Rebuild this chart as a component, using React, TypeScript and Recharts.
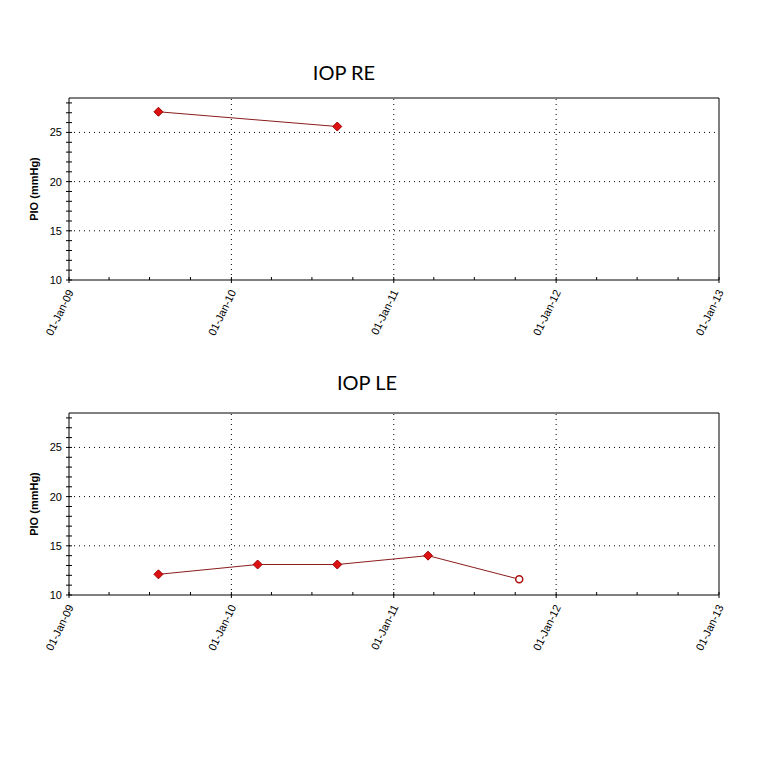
import React from 'react';
import { LineChart, Line, XAxis, YAxis, ReferenceLine, Label } from 'recharts';

// Readings (date, mmHg)
const reDates = ['2009-07-21', '2010-08-27'];
const reValues = [27.1, 25.6];

const leDates = ['2009-07-21', '2010-03-01', '2010-08-27', '2011-03-19', '2011-10-10'];
const leValues = [12.1, 13.1, 13.1, 14.0, 11.6];
const leOpen = [false, false, false, false, true];

const years = [2009, 2010, 2011, 2012, 2013];
const gridYears = [2010, 2011, 2012];
const yGrid = [15, 20, 25];
const yTicks = [10, 11, 12, 13, 14, 15, 16, 17, 18, 19, 20, 21, 22, 23, 24, 25, 26, 27, 28];
const yDomain: [number, number] = [10, 28.5];

const MONTHS = ['Jan', 'Feb', 'Mar', 'Apr', 'May', 'Jun', 'Jul', 'Aug', 'Sep', 'Oct', 'Nov', 'Dec'];

const toTs = (s: string) => Date.parse(s + 'T00:00:00Z');
const xDomain: [number, number] = [Date.UTC(2009, 0, 1), Date.UTC(2013, 0, 1)];
// quarter ticks between the year ticks
const quarterTicks: number[] = [];
years.forEach(y => {
  [0, 3, 6, 9].forEach(m => {
    const t = Date.UTC(y, m, 1);
    if (t <= xDomain[1]) quarterTicks.push(t);
  });
});

const reData = reDates.map((d, i) => ({ t: toTs(d), v: reValues[i], open: false }));
const leData = leDates.map((d, i) => ({ t: toTs(d), v: leValues[i], open: leOpen[i] }));

const fmtDate = (ts: number) => {
  const d = new Date(ts);
  const dd = String(d.getUTCDate()).padStart(2, '0');
  const yy = String(d.getUTCFullYear()).slice(2);
  return `${dd}-${MONTHS[d.getUTCMonth()]}-${yy}`;
};

const tickFont = '"Liberation Sans", Arial, sans-serif';

const BottomTick = (props: any) => {
  const { x, y, payload } = props;
  const isYear = new Date(payload.value).getUTCMonth() === 0;
  return (
    <g>
      <line x1={x} x2={x} y1={y - 3} y2={y + (isYear ? 3 : 0)} stroke="#000" />
      {isYear && (
        <text
          transform={`translate(${x + 5},${y + 12}) rotate(-64)`}
          textAnchor="end"
          fontSize={11}
          fontFamily={tickFont}
          fill="#000"
        >
          {fmtDate(payload.value)}
        </text>
      )}
    </g>
  );
};

const LeftTick = (props: any) => {
  const { x, y, payload } = props;
  const major = payload.value % 5 === 0;
  return (
    <g>
      <line x1={x - 3} x2={x + 3} y1={y} y2={y} stroke="#000" />
      {major && (
        <text x={x - 7} y={y} dy={4} textAnchor="end" fontSize={11} fontFamily={tickFont} fill="#000">
          {payload.value}
        </text>
      )}
    </g>
  );
};

const Marker = (props: any) => {
  const { cx, cy, payload, index } = props;
  if (cx == null || cy == null) return <g key={index} />;
  if (payload.open) {
    return <circle key={index} cx={cx} cy={cy} r={3.5} fill="#fff" stroke="#b01010" strokeWidth={1.5} />;
  }
  const s = 4.5;
  return (
    <polygon
      key={index}
      points={`${cx},${cy - s} ${cx + s},${cy} ${cx},${cy + s} ${cx - s},${cy}`}
      fill="#dd1111"
      stroke="#a00000"
      strokeWidth={1}
    />
  );
};

const YTitle = (props: any) => {
  const { viewBox } = props;
  const cx = viewBox.x + 5;
  const cy = viewBox.y + viewBox.height / 2;
  return (
    <text
      transform={`translate(${cx},${cy}) rotate(-90)`}
      textAnchor="middle"
      dy={4}
      fontSize={11}
      fontWeight="bold"
      fontFamily={tickFont}
      fill="#000"
    >
      PIO (mmHg)
    </text>
  );
};

function IopChart({ data }: { data: { t: number; v: number; open: boolean }[] }) {
  return (
    <LineChart width={768} height={340} data={data} margin={{ top: 98, right: 49, left: 29, bottom: 0 }}>
      <XAxis
        xAxisId="b"
        type="number"
        dataKey="t"
        domain={xDomain}
        ticks={quarterTicks}
        allowDataOverflow
        stroke="#000"
        tickLine={false}
        tickSize={0}
        tickMargin={0}
        height={60}
        tick={<BottomTick />}
        interval={0}
      />
      <XAxis
        xAxisId="t"
        orientation="top"
        mirror
        type="number"
        dataKey="t"
        domain={xDomain}
        ticks={quarterTicks}
        allowDataOverflow
        stroke="#000"
        tickSize={3}
        tick={false}
        interval={0}
      />
      <YAxis
        yAxisId="l"
        type="number"
        domain={yDomain}
        ticks={yTicks}
        allowDataOverflow
        stroke="#000"
        width={40}
        tickLine={false}
        tickSize={0}
        tickMargin={0}
        tick={<LeftTick />}
        interval={0}
      >
        <Label content={<YTitle />} />
      </YAxis>
      <YAxis
        yAxisId="r"
        orientation="right"
        mirror
        type="number"
        domain={yDomain}
        ticks={yTicks}
        allowDataOverflow
        stroke="#000"
        tickSize={3}
        tick={false}
        interval={0}
      />
      {yGrid.map(v => (
        <ReferenceLine key={'h' + v} xAxisId="b" yAxisId="l" y={v} stroke="#000" strokeDasharray="1 4" />
      ))}
      {gridYears.map(y => (
        <ReferenceLine key={'v' + y} xAxisId="b" yAxisId="l" x={Date.UTC(y, 0, 1)} stroke="#000" strokeDasharray="1 4" />
      ))}
      <Line
        xAxisId="b"
        yAxisId="l"
        dataKey="v"
        stroke="#8b1c1c"
        strokeWidth={1}
        dot={(p: any) => <Marker {...p} key={p.index} />}
        activeDot={false}
        isAnimationActive={false}
      />
    </LineChart>
  );
}

const titleStyle: React.CSSProperties = {
  position: 'absolute',
  fontFamily: 'Lato, "Open Sans", sans-serif',
  fontSize: 20,
  color: '#000',
  whiteSpace: 'nowrap',
  transform: 'translateX(-50%)',
};

export default function App() {
  return (
    <div style={{ position: 'absolute', left: 0, top: 0, width: 768, height: 768, background: '#fff' }}>
      <div style={{ position: 'absolute', left: 0, top: 0 }}>
        <IopChart data={reData} />
      </div>
      <div style={{ position: 'absolute', left: 0, top: 315 }}>
        <IopChart data={leData} />
      </div>
      <div style={{ ...titleStyle, left: 344, top: 60 }}>IOP RE</div>
      <div style={{ ...titleStyle, left: 367, top: 370 }}>IOP LE</div>
    </div>
  );
}
